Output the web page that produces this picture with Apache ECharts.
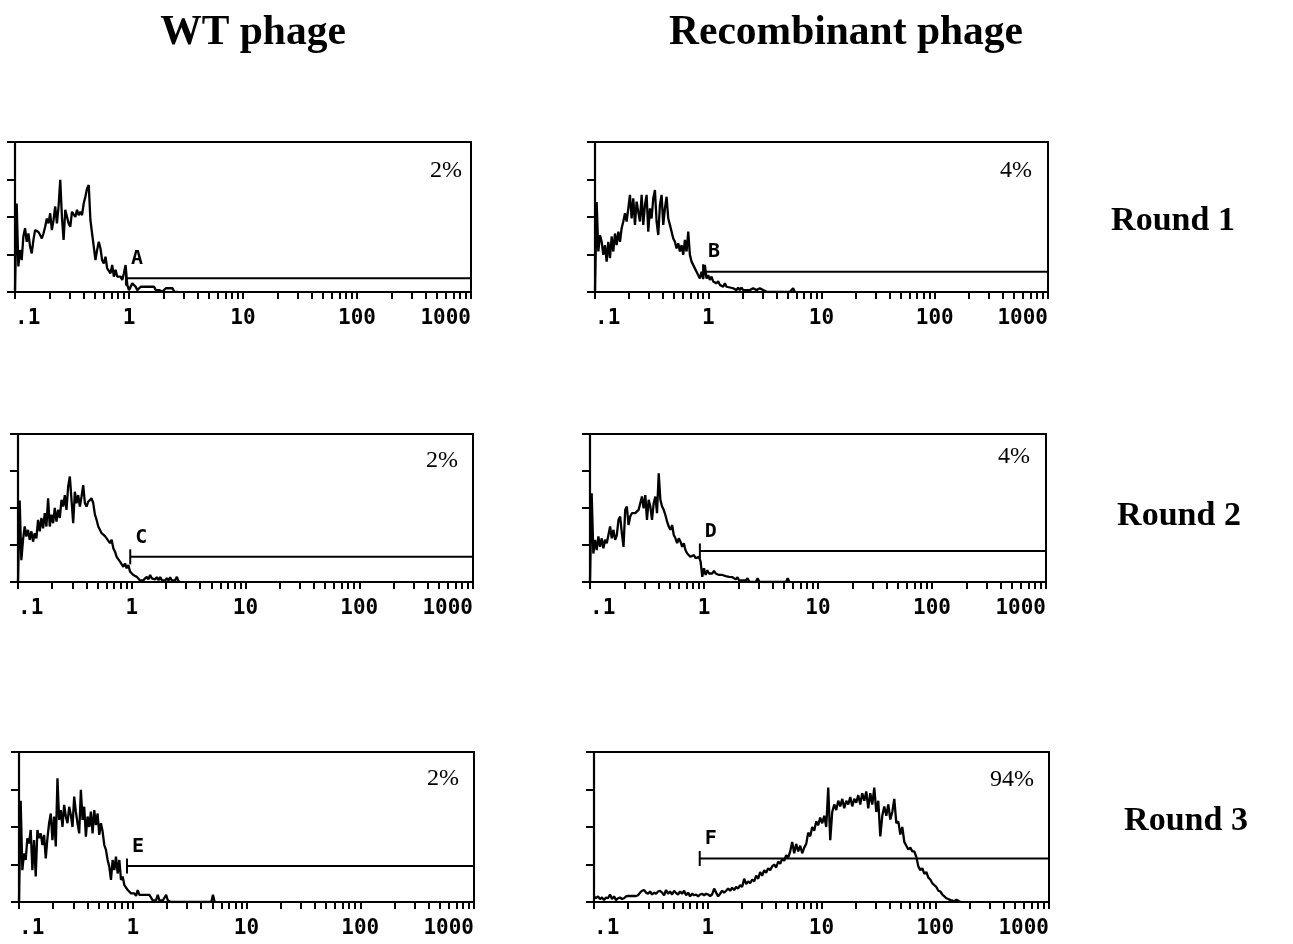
<!DOCTYPE html>
<html>
<head>
<meta charset="utf-8">
<script src="https://cdn.jsdelivr.net/npm/echarts@6/dist/echarts.min.js"></script>
<style>
  html, body { margin: 0; padding: 0; background: #fff; }
  #chart { width: 1293px; height: 944px; }
</style>
</head>
<body>
<div id="chart"></div>
<script>
// ---------- axis tick values (fluorescence, log scale) ----------
const xTickValues = [0.1, 0.2, 0.3, 0.4, 0.5, 0.6, 0.7, 0.8, 0.9,
                     1, 2, 3, 4, 5, 6, 7, 8, 9,
                     10, 20, 30, 40, 50, 60, 70, 80, 90,
                     100, 200, 300, 400, 500, 600, 700, 800, 900, 1000];
const xLabelValues = [0.1, 1, 10, 100, 1000];
const xLabelTexts = ['.1', '1', '10', '100', '1000'];

// ---------- histogram counts (relative units, channels from 0.1 upward) ----------
const binFine = 0.0147;   // decades per channel, panels A-E
const binCoarse = 0.0176; // decades per channel, panel F

const wtRound1 = [0, 2.36, 0.68, 1.12, 0.85, 1.48, 1.7, 1.34, 1.56, 1.21, 1.03, 1.39, 1.65, 1.7, 1.6, 1.52, 1.43, 1.56, 1.74, 1.96, 1.83, 2.1, 1.65, 1.92, 2.28, 1.83, 2.28, 2.99, 2.0, 1.39, 2.19, 2.23, 1.83, 1.74, 2.14, 2.1, 2.0, 2.19, 2.05, 2.14, 2.05, 2.36, 2.54, 2.76, 2.85, 1.92, 1.56, 1.21, 0.85, 1.12, 1.34, 1.16, 0.85, 0.76, 0.94, 0.63, 0.59, 0.5, 0.72, 0.41, 0.59, 0.41, 0.45, 0.41, 0.32, 0.5, 0.72, 0.19, 0.05, 0.1, 0.23, 0.28, 0.14, 0.05, 0.1, 0.14, 0.1, 0.14, 0.1, 0.14, 0.1, 0.14, 0.1, 0.14, 0.05, 0.01, 0.05, 0.01, 0.01, 0.01, 0.1, 0.14, 0.1, 0.14, 0.1, 0.01, 0, 0];

const recRound1 = [0, 2.4, 1.08, 1.52, 1.34, 0.99, 1.25, 0.81, 1.34, 0.9, 1.48, 1.08, 1.56, 1.25, 1.61, 1.34, 1.7, 1.88, 2.1, 1.88, 2.23, 2.59, 1.96, 2.5, 1.79, 2.41, 2.14, 1.88, 2.59, 1.79, 2.32, 2.59, 1.61, 2.23, 1.96, 2.5, 2.72, 1.88, 1.52, 2.32, 2.59, 1.79, 2.23, 2.54, 1.96, 1.79, 1.61, 1.43, 1.34, 1.16, 1.3, 1.08, 1.25, 0.99, 1.39, 1.08, 1.61, 0.99, 0.81, 0.76, 0.63, 0.54, 0.5, 0.36, 0.54, 0.36, 0.72, 0.36, 0.45, 0.32, 0.41, 0.28, 0.32, 0.23, 0.29, 0.19, 0.23, 0.14, 0.23, 0.14, 0.14, 0.12, 0.14, 0.1, 0.12, 0.05, 0.12, 0.05, 0.12, 0.05, 0.1, 0.05, 0.1, 0.05, 0.08, 0.1, 0.06, 0.05, 0.08, 0.1, 0.06, 0.05, 0.03, 0.01, 0, 0, 0, 0, 0, 0, 0, 0, 0, 0, 0, 0, 0, 0, 0, 0.1, 0];

const wtRound2 = [0, 2.2, 0.59, 1.14, 1.5, 1.23, 1.41, 1.14, 1.37, 1.09, 1.32, 1.18, 1.68, 1.37, 1.73, 1.45, 1.86, 1.5, 2.26, 1.5, 1.82, 1.59, 2.0, 1.63, 1.95, 1.73, 2.22, 2.04, 2.35, 1.95, 2.58, 2.85, 2.22, 1.59, 2.44, 2.13, 2.35, 2.04, 2.31, 2.62, 2.13, 2.04, 2.17, 2.22, 2.26, 2.13, 1.82, 1.68, 1.5, 1.41, 1.32, 1.27, 1.24, 1.18, 1.23, 1.05, 1.14, 0.91, 0.82, 0.68, 0.73, 0.55, 0.59, 0.41, 0.5, 0.37, 0.46, 0.28, 0.23, 0.19, 0.23, 0.14, 0.1, 0.04, 0.01, 0.05, 0.1, 0.14, 0.07, 0.19, 0.1, 0.14, 0.07, 0.13, 0.05, 0.13, 0.05, 0.1, 0.04, 0.1, 0.04, 0.13, 0.04, 0.01, 0.05, 0.14, 0.02, 0];

const recRound2 = [0, 2.4, 0.77, 1.14, 0.86, 1.23, 0.95, 1.18, 0.91, 1.14, 1.05, 1.27, 1.5, 1.18, 1.41, 1.14, 1.27, 1.68, 1.77, 1.32, 0.95, 1.95, 2.04, 1.54, 1.77, 1.86, 1.82, 1.86, 1.9, 1.95, 2.13, 2.31, 1.99, 2.35, 1.68, 2.22, 2.04, 1.68, 2.13, 2.31, 1.86, 2.94, 2.22, 2.04, 1.95, 1.81, 1.63, 1.5, 1.41, 1.54, 1.27, 1.18, 1.05, 1.18, 1.09, 0.95, 1.05, 0.86, 0.77, 0.73, 0.68, 0.64, 0.73, 0.64, 0.59, 0.68, 0.55, 0.14, 0.37, 0.19, 0.32, 0.23, 0.28, 0.23, 0.3, 0.23, 0.28, 0.19, 0.23, 0.19, 0.22, 0.16, 0.19, 0.14, 0.16, 0.13, 0.1, 0.07, 0.13, 0.04, 0.01, 0.04, 0, 0.04, 0.1, 0.01, 0.05, 0, 0.04, 0, 0.1, 0.01, 0, 0, 0, 0, 0, 0, 0, 0, 0, 0, 0, 0, 0, 0, 0, 0, 0.1, 0];

const wtRound3 = [0, 2.7, 0.85, 1.3, 1.12, 1.7, 1.56, 1.92, 0.85, 1.65, 0.68, 1.92, 1.7, 1.83, 1.52, 1.79, 1.16, 1.7, 2.1, 2.36, 1.65, 2.28, 1.48, 3.3, 2.19, 2.45, 2.0, 2.59, 2.28, 2.1, 2.54, 2.32, 2.0, 2.81, 2.41, 2.1, 1.83, 2.99, 2.19, 2.54, 1.74, 2.28, 2.0, 2.41, 1.83, 2.45, 2.05, 2.36, 1.79, 2.1, 1.88, 1.52, 1.39, 1.12, 0.94, 0.59, 1.12, 0.85, 1.21, 0.76, 1.12, 0.59, 0.68, 0.45, 0.5, 0.32, 0.36, 0.23, 0.19, 0.23, 0.16, 0.32, 0.19, 0.19, 0.19, 0.19, 0.19, 0.19, 0.19, 0.14, 0.04, 0.01, 0.05, 0.19, 0.04, 0.01, 0.04, 0.05, 0.19, 0.04, 0, 0, 0, 0, 0, 0, 0, 0, 0, 0, 0, 0, 0, 0, 0, 0, 0, 0, 0, 0, 0, 0, 0, 0, 0, 0, 0.19, 0];

const recRound3 = [0.15, 0.1, 0.15, 0.08, 0.12, 0.05, 0.12, 0.1, 0.2, 0.08, 0.15, 0.05, 0.1, 0.12, 0.08, 0.1, 0.15, 0.16, 0.16, 0.16, 0.16, 0.16, 0.18, 0.25, 0.3, 0.32, 0.25, 0.22, 0.28, 0.2, 0.25, 0.22, 0.28, 0.3, 0.25, 0.18, 0.32, 0.22, 0.28, 0.2, 0.3, 0.24, 0.2, 0.28, 0.22, 0.3, 0.18, 0.25, 0.15, 0.22, 0.18, 0.2, 0.15, 0.2, 0.22, 0.18, 0.22, 0.2, 0.16, 0.2, 0.36, 0.25, 0.15, 0.22, 0.3, 0.25, 0.3, 0.36, 0.3, 0.38, 0.32, 0.4, 0.36, 0.45, 0.4, 0.62, 0.48, 0.55, 0.5, 0.6, 0.55, 0.7, 0.62, 0.8, 0.7, 0.85, 0.78, 0.9, 0.85, 0.95, 1.0, 0.92, 1.08, 1.02, 1.15, 1.1, 1.25, 1.18, 1.35, 1.6, 1.3, 1.55, 1.35, 1.5, 1.3, 1.45, 1.55, 1.85, 1.75, 2.0, 1.9, 2.15, 2.05, 2.25, 2.1, 2.3, 2.0, 3.05, 1.65, 2.4, 2.6, 2.45, 2.7, 2.55, 2.75, 2.5, 2.7, 2.6, 2.8, 2.55, 2.75, 2.65, 2.85, 2.6, 2.9, 2.7, 2.95, 2.5, 2.9, 2.6, 3.05, 2.4, 2.7, 1.75, 2.3, 2.55, 2.3, 2.6, 2.2, 2.4, 2.75, 2.1, 2.15, 1.8, 2.0, 1.6, 1.5, 1.4, 1.45, 1.35, 1.35, 1.2, 0.95, 0.85, 0.9, 0.75, 0.8, 0.65, 0.6, 0.5, 0.45, 0.4, 0.3, 0.28, 0.2, 0.15, 0.1, 0.08, 0.05, 0.04, 0.02, 0.06, 0.03, 0];

// ---------- gates & annotations ----------
const gateLetters = ['A', 'B', 'C', 'D', 'E', 'F'];
const gateStarts = [0.94, 0.9, 0.97, 0.92, 0.89, 0.85];
const gateEnd = 1000;
const gateLevels = [0.37, 0.54, 0.68, 0.84, 0.96, 1.16];
const percents = ['2%', '4%', '2%', '4%', '2%', '94%'];
const columnTitles = ['WT phage', 'Recombinant phage'];
const rowTitles = ['Round 1', 'Round 2', 'Round 3'];

// ---------- layout ----------
const panelCounts = [wtRound1, recRound1, wtRound2, recRound2, wtRound3, recRound3];
const panelBins = [binFine, binFine, binFine, binFine, binFine, binCoarse];
const gridBoxes = [
  { left: 15, top: 142, width: 456, height: 150 },
  { left: 595, top: 142, width: 453, height: 150 },
  { left: 18, top: 434, width: 455, height: 148 },
  { left: 590, top: 434, width: 456, height: 148 },
  { left: 19, top: 752, width: 455, height: 150 },
  { left: 594, top: 752, width: 455, height: 150 }
];
const percentPos = [[462, 171], [1032, 171], [458, 461], [1030, 457], [459, 779], [1034, 780]];
const titlePos = [[253, 33], [846, 33]];
const roundPos = [[1173, 221], [1179, 516], [1186, 821]];

const lg = v => +Math.log10(v).toFixed(6);

const grids = [], xAxes = [], yAxes = [], series = [];
gridBoxes.forEach((b, i) => {
  grids.push(Object.assign({
    show: true, borderColor: '#000', borderWidth: 2,
    backgroundColor: 'transparent', containLabel: false
  }, b));
  xAxes.push({
    type: 'value', gridIndex: i, min: -1, max: 3,
    axisLine: { show: true, onZero: false, lineStyle: { color: '#000', width: 2.2 } },
    axisTick: { show: true, length: 7, lineStyle: { color: '#000', width: 2 },
                customValues: xTickValues.map(lg) },
    axisLabel: {
      customValues: xLabelValues.map(lg),
      formatter: v => xLabelTexts[Math.round(v) + 1],
      color: '#000', fontFamily: 'DejaVu Sans Mono', fontWeight: 'bold', fontSize: 21,
      margin: 16, showMinLabel: true, showMaxLabel: true,
      alignMinLabel: 'left', alignMaxLabel: 'right'
    },
    splitLine: { show: false }
  });
  yAxes.push({
    type: 'value', gridIndex: i, min: 0, max: 4, interval: 1,
    axisLine: { show: true, onZero: false, lineStyle: { color: '#000', width: 2.2 } },
    axisTick: { show: true, length: 8, lineStyle: { color: '#000', width: 2 } },
    axisLabel: { show: false },
    splitLine: { show: false }
  });
  const counts = panelCounts[i];
  const bin = panelBins[i];
  series.push({
    type: 'line', xAxisIndex: i, yAxisIndex: i,
    data: counts.map((c, k) => [-1 + k * bin, c]),
    symbol: 'none', showSymbol: false, smooth: false,
    lineStyle: { color: '#000', width: 2.3 },
    silent: true, z: 3
  });
  series.push({
    type: 'line', xAxisIndex: i, yAxisIndex: i,
    data: [
      { value: [lg(gateStarts[i]), gateLevels[i]],
        label: { show: true, formatter: gateLetters[i], position: [6, -22],
                 color: '#000', fontFamily: 'DejaVu Sans Mono', fontWeight: 'bold', fontSize: 20 } },
      [lg(gateEnd), gateLevels[i]]
    ],
    symbol: 'rect', symbolSize: [2, 15], showSymbol: true,
    itemStyle: { color: '#000' },
    lineStyle: { color: '#000', width: 2 },
    silent: true, z: 4
  });
});

const graphics = [];
columnTitles.forEach((t, i) => graphics.push({
  type: 'text', x: titlePos[i][0], y: titlePos[i][1],
  style: { text: t, fill: '#000', fontFamily: 'Liberation Serif', fontWeight: 'bold', fontSize: 41.5,
           align: 'center', verticalAlign: 'middle' }
}));
rowTitles.forEach((t, i) => graphics.push({
  type: 'text', x: roundPos[i][0], y: roundPos[i][1],
  style: { text: t, fill: '#000', fontFamily: 'Liberation Serif', fontWeight: 'bold', fontSize: 34,
           align: 'center', verticalAlign: 'middle' }
}));
percents.forEach((t, i) => graphics.push({
  type: 'text', x: percentPos[i][0], y: percentPos[i][1],
  style: { text: t, fill: '#000', fontFamily: 'Liberation Serif', fontSize: 24,
           align: 'right', verticalAlign: 'middle' }
}));

const chart = echarts.init(document.getElementById('chart'), null, { renderer: 'canvas' });
chart.setOption({
  animation: false,
  backgroundColor: '#fff',
  grid: grids,
  xAxis: xAxes,
  yAxis: yAxes,
  series: series,
  graphic: graphics
});
</script>
</body>
</html>
